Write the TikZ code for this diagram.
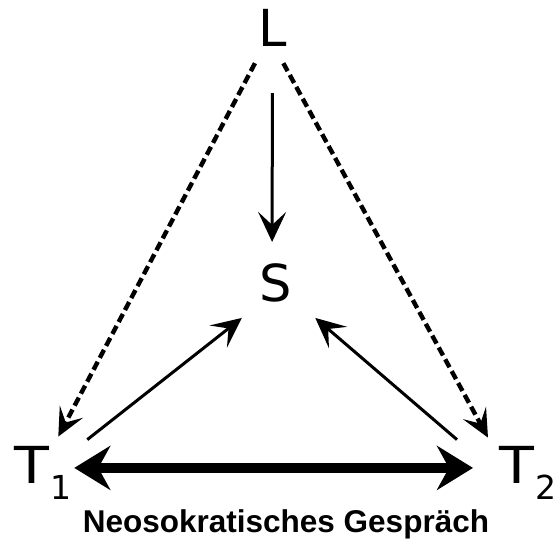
\documentclass[tikz,border=0pt]{standalone}
\usepackage{fontspec}
\setmainfont{DejaVu Sans}
\newfontfamily\titelfont{Liberation Sans}
\usepackage{tikz}
\usetikzlibrary{arrows.meta}
\newcommand{\idx}[1]{\kern1pt\raisebox{-17pt}{\fontsize{33}{33}\selectfont #1}}
\newcommand{\tbuch}{\scalebox{1.12}[1]{T}}
\tikzset{
  buchstabe/.style={inner sep=0pt,anchor=base west,font=\fontsize{51}{51}\selectfont},
  pfeil/.style={line width=3pt,-{Stealth[length=30pt,width=28pt,inset=13pt]}},
  gestrichelt/.style={line width=4.4pt,dash pattern=on 9pt off 4.5pt,-{Stealth[length=28pt,width=26pt,inset=12pt]}},
  doppelpfeil/.style={line width=10pt,{Stealth[length=36pt,width=44pt,inset=12pt]}-{Stealth[length=36pt,width=44pt,inset=12pt]}}
}

\begin{document}
\begin{tikzpicture}[x=1pt,y=-1pt]
  \useasboundingbox (0,0) rectangle (555,540);
  %% Buchstaben
  \node[buchstabe] (L) at (258,47) {L};
  \node[buchstabe] (S) at (259.5,301.5) {S};
  \node[buchstabe] (T1) at (14,483) {\tbuch\idx{1}};
  \node[buchstabe] (T2) at (499,483) {\tbuch\idx{2}};

  %% Pfeile von L
  \draw[pfeil] ([yshift=-46pt]L.south) -- ([xshift=-3.8pt,yshift=21.5pt]S.north);
  \draw[gestrichelt] ([xshift=-3pt,yshift=-16pt]L.south west) -- ([xshift=-13pt,yshift=9pt]T1.north east);
  \draw[gestrichelt] ([xshift=-3.5pt,yshift=-16pt]L.south east) -- ([xshift=-11pt,yshift=8pt]T2.north west);

  %% Pfeile zu S
  \draw[pfeil] ([xshift=16pt,yshift=6pt]T1.north east) -- ([xshift=-17.6pt,yshift=-15.5pt]S.south west);
  \draw[pfeil] ([xshift=-42pt,yshift=6pt]T2.north west) -- ([xshift=23pt,yshift=-15.5pt]S.south east);

  %% T1 <-> T2
  \draw[doppelpfeil] ([xshift=3pt,yshift=5pt]T1.east) -- ([xshift=-26pt,yshift=5pt]T2.west);

  %% Titel
  \node[inner sep=0pt,anchor=base,font=\titelfont\bfseries\fontsize{31.5}{31.5}\selectfont] (titel) at (286,532) {Neosokratisches Gespräch};
\end{tikzpicture}
\end{document}
